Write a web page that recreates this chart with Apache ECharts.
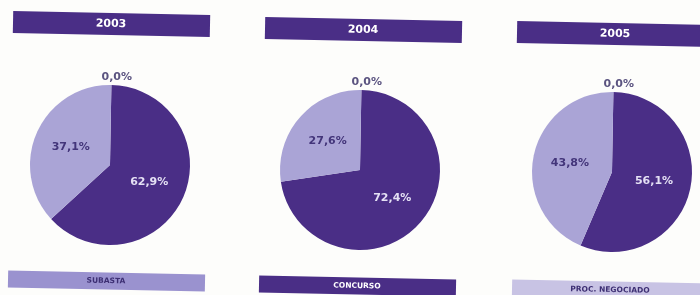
<!DOCTYPE html>
<html>
<head>
<meta charset="utf-8">
<script src="https://cdn.jsdelivr.net/npm/echarts@6/dist/echarts.min.js"></script>
<style>
html,body{margin:0;padding:0;background:#fdfdfb;}
#c{width:700px;height:295px;}
</style>
</head>
<body>
<div id="c"></div>
<script>
// Data
var years = ['2003', '2004', '2005'];
var categories = ['CONCURSO', 'PROC. NEGOCIADO', 'SUBASTA'];
var concurso = [62.9, 72.4, 56.1];
var procNegociado = [37.1, 27.6, 43.8];
var subasta = [0.0, 0.0, 0.0];
var legendLabels = ['SUBASTA', 'CONCURSO', 'PROC. NEGOCIADO'];

// Styling
var DARK = '#4a2e86';
var LIGHT_PIE = '#aaa4d6';
var SUB_COL = '#9a92cf';
var PROC_COL = '#c8c3e4';
var TILT = -0.02;

var pieCenters = [[110, 165], [360, 170], [612, 172]];
var titleBars = [[111, 24], [363, 30], [615, 34]];
var legendBars = [[106, 281], [357, 286], [610, 290]];
var legendColors = [SUB_COL, DARK, PROC_COL];
var legendTextColors = ['#3d2f73', '#ffffff', '#3d2f73'];

function fmt(p) { return p.value.toFixed(1).replace('.', ',') + '%'; }

var series = years.map(function (y, i) {
  return {
    type: 'pie',
    name: y,
    center: pieCenters[i],
    radius: 80,
    startAngle: 89,
    clockwise: true,
    avoidLabelOverlap: false,
    silent: true,
    emphasis: { disabled: true },
    label: {
      show: true,
      position: 'inside',
      formatter: fmt,
      fontFamily: 'DejaVu Sans',
      fontWeight: 'bold',
      fontSize: 11
    },
    labelLine: { show: false },
    labelLayout: function (params) {
      if (params.dataIndex === 2) { return { dx: -10 }; }
      return {};
    },
    data: [
      { name: categories[0], value: concurso[i], itemStyle: { color: DARK },
        label: { color: '#e4e0f4' } },
      { name: categories[1], value: procNegociado[i], itemStyle: { color: LIGHT_PIE },
        label: { color: '#43357a' } },
      { name: categories[2], value: subasta[i], itemStyle: { color: SUB_COL },
        label: { position: 'outside', color: '#5b5480', distanceToLabelLine: 0 },
        labelLine: { show: false, length: 8, length2: 0 } }
    ]
  };
});

var graphics = [];
years.forEach(function (y, i) {
  graphics.push({
    type: 'group', x: titleBars[i][0], y: titleBars[i][1], rotation: TILT,
    children: [
      { type: 'rect', shape: { x: -98, y: -11, width: 197, height: 22 }, style: { fill: DARK } },
      { type: 'text', x: 0, y: 0, style: { text: y, fill: '#ffffff', font: 'bold 11px "DejaVu Sans"', textAlign: 'center', textVerticalAlign: 'middle' } }
    ]
  });
});
legendLabels.forEach(function (t, i) {
  graphics.push({
    type: 'group', x: legendBars[i][0], y: legendBars[i][1], rotation: TILT,
    children: [
      { type: 'rect', shape: { x: -98, y: -8.5, width: 197, height: 17 }, style: { fill: legendColors[i] } },
      { type: 'text', x: 0, y: 0, style: { text: t, fill: legendTextColors[i], font: 'bold 7.5px "DejaVu Sans"', textAlign: 'center', textVerticalAlign: 'middle' } }
    ]
  });
});

var chart = echarts.init(document.getElementById('c'), null, { renderer: 'canvas' });
chart.setOption({
  backgroundColor: '#fdfdfb',
  animation: false,
  series: series,
  graphic: graphics
});
</script>
</body>
</html>
